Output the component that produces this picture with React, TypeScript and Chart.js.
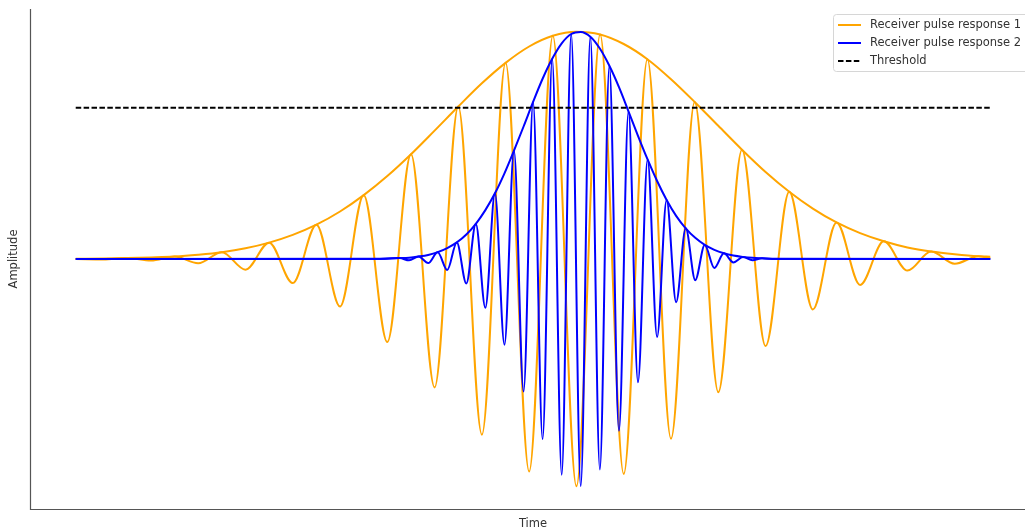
import { useEffect, useRef } from "react";
import { Chart, registerables } from "chart.js";

Chart.register(...registerables);

// Receiver pulse response 1: time of each crest/trough and its amplitude
const pulse1Time = [
  0, 0.305, 0.564, 0.822, 1.081, 1.339, 1.598, 1.856, 2.115, 2.373,
  2.632, 2.89, 3.149, 3.407, 3.666, 3.924, 4.183, 4.441, 4.7, 4.958,
  5.217, 5.475, 5.734, 5.992, 6.251, 6.509, 6.768, 7.026, 7.285, 7.543,
  7.802, 8.06, 8.319, 8.577, 8.836, 9.094, 9.353, 9.611, 9.87, 10,
];
const pulse1Amp = [
  0, -0.002, 0.004, -0.007, 0.011, -0.019, 0.03, -0.047, 0.072, -0.106,
  0.151, -0.209, 0.281, -0.365, 0.461, -0.565, 0.671, -0.773, 0.863, -0.935,
  0.982, -1.0, 0.988, -0.946, 0.879, -0.791, 0.691, -0.586, 0.481, -0.383,
  0.296, -0.222, 0.161, -0.114, 0.078, -0.051, 0.033, -0.021, 0.012, 0.003,
];
// upper envelope of pulse 1 at the same times
const pulse1Env = [
  0.001, 0.002, 0.004, 0.007, 0.011, 0.019, 0.03, 0.047, 0.072, 0.106,
  0.151, 0.209, 0.281, 0.365, 0.461, 0.565, 0.671, 0.773, 0.863, 0.935,
  0.982, 1.0, 0.988, 0.946, 0.879, 0.791, 0.691, 0.586, 0.481, 0.383,
  0.296, 0.222, 0.161, 0.114, 0.078, 0.051, 0.033, 0.021, 0.012, 0.01,
];

// Receiver pulse response 2: shorter, higher-frequency pulse
const pulse2Time = [
  0, 3.3, 3.541, 3.645, 3.749, 3.854, 3.958, 4.062, 4.167, 4.271,
  4.375, 4.479, 4.584, 4.688, 4.792, 4.897, 5.001, 5.105, 5.21, 5.314,
  5.418, 5.522, 5.627, 5.731, 5.835, 5.94, 6.044, 6.148, 6.253, 6.357,
  6.461, 6.565, 6.67, 6.774, 6.878, 6.983, 7.087, 7.191, 7.296, 7.4,
  7.504, 7.65, 10,
];
const pulse2Amp = [
  0, 0, 0.004, -0.006, 0.011, -0.018, 0.03, -0.048, 0.073, -0.108,
  0.155, -0.215, 0.289, -0.377, 0.477, -0.583, 0.691, -0.793, 0.881, -0.949,
  0.99, -0.999, 0.978, -0.926, 0.85, -0.756, 0.65, -0.542, 0.438, -0.343,
  0.26, -0.19, 0.135, -0.093, 0.062, -0.04, 0.025, -0.015, 0.009, -0.005,
  0.003, 0, 0,
];
const pulse2Env = [
  0, 0.001, 0.004, 0.006, 0.011, 0.018, 0.03, 0.048, 0.073, 0.108,
  0.155, 0.215, 0.289, 0.377, 0.477, 0.583, 0.691, 0.793, 0.881, 0.949,
  0.99, 0.999, 0.978, 0.926, 0.85, 0.756, 0.65, 0.542, 0.438, 0.343,
  0.26, 0.19, 0.135, 0.093, 0.062, 0.04, 0.025, 0.015, 0.009, 0.005,
  0.003, 0.001, 0,
];

const thresholdLevel = 0.665;
const thresholdSpan = [0, 10];

const seriesLabels = ["Receiver pulse response 1", "Receiver pulse response 2", "Threshold"];
const seriesColors = ["#ffa500", "#0000ff", "#000000"];
const xTitle = "Time";
const yTitle = "Amplitude";

const FONT = '11.5px "DejaVu Sans", sans-serif';
const TEXT = "#333333";

const toPoints = (t: number[], v: number[]) => t.map((x, i) => ({ x, y: v[i] }));

// spines, axis titles and legend box
const framePlugin = {
  id: "frame",
  afterDraw(chart: any) {
    const { ctx, chartArea } = chart;
    const { left, right, top, bottom } = chartArea;
    ctx.save();
    ctx.strokeStyle = "#555555";
    ctx.lineWidth = 1.2;
    ctx.beginPath();
    ctx.moveTo(left + 0.5, top);
    ctx.lineTo(left + 0.5, bottom + 0.5);
    ctx.lineTo(right, bottom + 0.5);
    ctx.stroke();

    ctx.fillStyle = TEXT;
    ctx.font = FONT;
    ctx.textAlign = "center";
    ctx.textBaseline = "middle";
    ctx.fillText(xTitle, (left + right) / 2, bottom + 15);
    ctx.save();
    ctx.translate(14, (top + bottom) / 2);
    ctx.rotate(-Math.PI / 2);
    ctx.fillText(yTitle, 0, 0);
    ctx.restore();

    // legend
    const bx = 833.5;
    const by = 14.5;
    const bw = 210;
    const bh = 57;
    const r = 3;
    ctx.beginPath();
    ctx.moveTo(bx + r, by);
    ctx.lineTo(bx + bw - r, by);
    ctx.arcTo(bx + bw, by, bx + bw, by + r, r);
    ctx.lineTo(bx + bw, by + bh - r);
    ctx.arcTo(bx + bw, by + bh, bx + bw - r, by + bh, r);
    ctx.lineTo(bx + r, by + bh);
    ctx.arcTo(bx, by + bh, bx, by + bh - r, r);
    ctx.lineTo(bx, by + r);
    ctx.arcTo(bx, by, bx + r, by, r);
    ctx.closePath();
    ctx.fillStyle = "rgba(255,255,255,0.8)";
    ctx.fill();
    ctx.strokeStyle = "#d6d6d6";
    ctx.lineWidth = 1;
    ctx.stroke();

    const rows = [25, 43, 61];
    seriesLabels.forEach((label, i) => {
      const y = rows[i];
      ctx.beginPath();
      ctx.strokeStyle = seriesColors[i];
      ctx.lineWidth = 2;
      ctx.setLineDash(i === 2 ? [5.5, 2.4] : []);
      ctx.moveTo(838, y);
      ctx.lineTo(861, y);
      ctx.stroke();
      ctx.setLineDash([]);
      ctx.fillStyle = TEXT;
      ctx.textAlign = "left";
      ctx.fillText(label, 870, y);
    });
    ctx.restore();
  },
};

export default function App() {
  const canvasRef = useRef<HTMLCanvasElement | null>(null);

  useEffect(() => {
    if (!canvasRef.current) return;
    const line = {
      pointRadius: 0,
      borderWidth: 2,
      fill: false,
      cubicInterpolationMode: "monotone" as const,
    };
    const chart = new Chart(canvasRef.current, {
      type: "line",
      data: {
        datasets: [
          {
            ...line,
            label: seriesLabels[2],
            data: thresholdSpan.map((x) => ({ x, y: thresholdLevel })),
            borderColor: seriesColors[2],
            borderDash: [5.5, 2.4],
            order: 0,
          },
          {
            ...line,
            label: "envelope 2",
            data: toPoints(pulse2Time, pulse2Env),
            borderColor: seriesColors[1],
            order: 1,
          },
          {
            ...line,
            label: seriesLabels[1],
            data: toPoints(pulse2Time, pulse2Amp),
            borderColor: seriesColors[1],
            order: 2,
          },
          {
            ...line,
            label: "envelope 1",
            data: toPoints(pulse1Time, pulse1Env),
            borderColor: seriesColors[0],
            order: 3,
          },
          {
            ...line,
            label: seriesLabels[0],
            data: toPoints(pulse1Time, pulse1Amp),
            borderColor: seriesColors[0],
            order: 4,
          },
        ],
      },
      options: {
        animation: false,
        responsive: false,
        devicePixelRatio: 1,
        events: [],
        layout: { padding: { left: 30, right: 4, top: 9, bottom: 23 } },
        plugins: { legend: { display: false }, tooltip: { enabled: false } },
        scales: {
          x: { type: "linear", min: -0.5, max: 10.5, display: false },
          y: { type: "linear", min: -1.1, max: 1.1, display: false },
        },
      },
      plugins: [framePlugin],
    });
    return () => chart.destroy();
  }, []);

  return (
    <div
      style={{
        position: "fixed",
        left: 0,
        top: 0,
        width: 1025,
        height: 532,
        overflow: "hidden",
        background: "#ffffff",
      }}
    >
      <canvas ref={canvasRef} width={1040} height={532} style={{ display: "block" }} />
    </div>
  );
}
